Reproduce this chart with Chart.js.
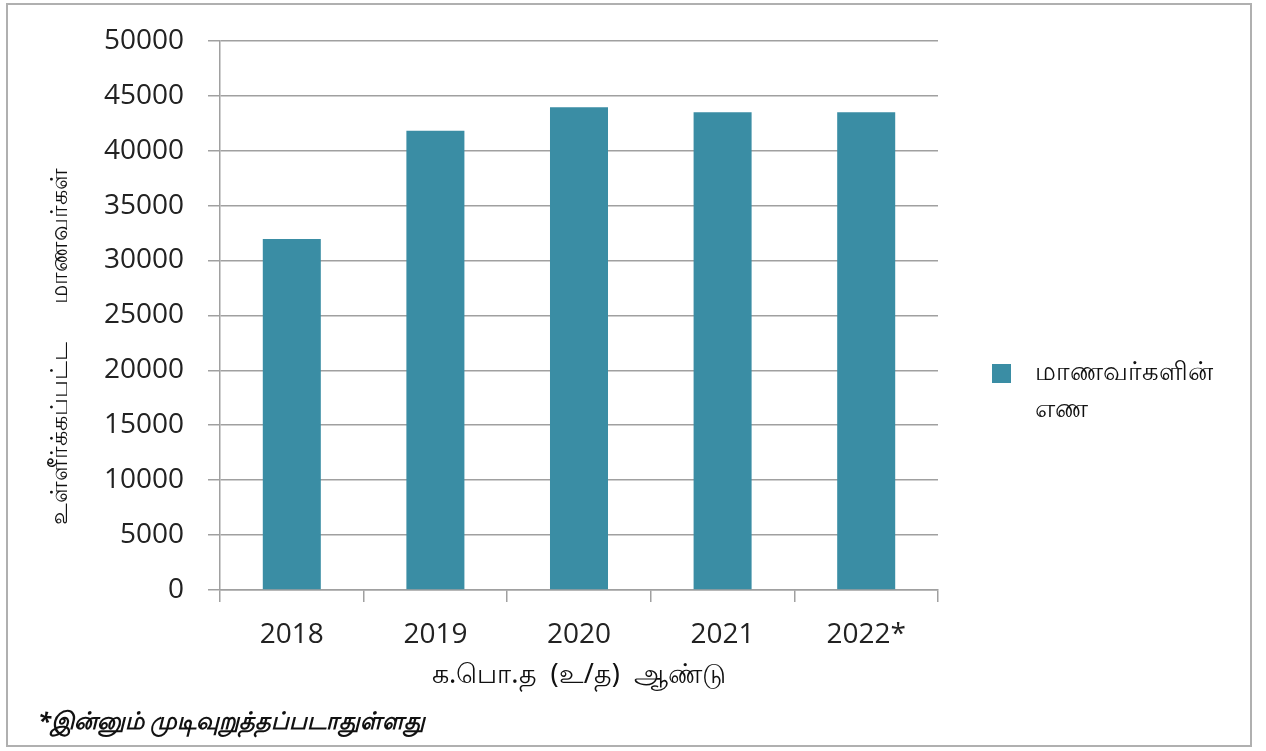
<!DOCTYPE html>
<html>
<head>
<meta charset="utf-8">
<script src="https://cdn.jsdelivr.net/npm/chart.js"></script>
<style>
  html, body { margin: 0; padding: 0; background: #fff; }
  #wrap { position: relative; width: 1266px; height: 751px; }
  #frame {
    position: absolute; left: 6px; top: 3px; width: 1246px; height: 744px;
    border: 2px solid #b0b0b0; box-sizing: border-box;
  }
  canvas { position: absolute; left: 0; top: 0; }
  #legend { position: absolute; left: 992px; top: 352px; font: 26px "Noto Sans", sans-serif; color: #111; }
  #legend .box { position: absolute; left: 0; top: 12px; width: 19px; height: 19px; }
  #legend .txt { position: absolute; left: 43px; top: 0; line-height: 37px; white-space: nowrap; }
  #note {
    position: absolute; left: 38px; top: 703px;
    font: italic bold 24px "Noto Sans", sans-serif; color: #111;
  }
</style>
</head>
<body>
<div id="wrap">
  <div id="frame"></div>
  <canvas id="c" width="1266" height="751"></canvas>
  <div id="legend"><div class="box"></div><div class="txt"></div></div>
  <div id="note"></div>
</div>
<script>
// data
const years = ['2018', '2019', '2020', '2021', '2022*'];
const students = [31950, 41800, 43950, 43500, 43500];
const yTicks = [0, 5000, 10000, 15000, 20000, 25000, 30000, 35000, 40000, 45000, 50000];

const seriesName = ['மாணவர்களின்', 'எண'];
const xTitle = 'க.பொ.த  (உ/த)  ஆண்டு';
// trailing nbsp pushes the visible text down a little, like the reference
const yTitle = 'உள்ளீர்க்கப்பட்ட      மாணவர்கள்' + '\u00A0'.repeat(10);
const footNote = '*இன்னும் முடிவுறுத்தப்படாதுள்ளது';

const barColor = '#3a8da4';
const gridColor = '#a0a0a0';
const numFont = { family: '"Open Sans", sans-serif', size: 28 };

document.querySelector('#legend .box').style.background = barColor;
document.querySelector('#legend .txt').innerHTML = seriesName.join('<br>');
document.getElementById('note').textContent = footNote;

new Chart(document.getElementById('c'), {
  type: 'bar',
  data: {
    labels: years,
    datasets: [{
      label: seriesName.join(' '),
      data: students,
      backgroundColor: barColor,
      borderWidth: 0,
      barPercentage: 0.404,
      categoryPercentage: 1
    }]
  },
  options: {
    responsive: false,
    animation: false,
    layout: { padding: { left: 46, right: 328, top: 39, bottom: 59 } },
    plugins: {
      legend: { display: false },
      tooltip: { enabled: false }
    },
    scales: {
      y: {
        min: 0,
        max: 50000,
        afterBuildTicks: axis => { axis.ticks = yTicks.map(v => ({ value: v })); },
        afterFit: axis => { axis.width = 174; },
        ticks: { font: numFont, color: '#222', padding: 24, callback: v => String(v) },
        grid: { color: gridColor, lineWidth: 1.5, tickLength: 12 },
        border: { color: gridColor, width: 1.5 },
        title: {
          display: true,
          text: yTitle,
          font: { family: '"Noto Sans", sans-serif', size: 24 },
          color: '#111',
          padding: 0
        }
      },
      x: {
        afterFit: axis => { axis.height = 102; },
        ticks: { font: numFont, color: '#222', padding: 16 },
        grid: { display: true, drawOnChartArea: false, offset: true, color: gridColor, lineWidth: 1.5, tickLength: 12 },
        border: { color: gridColor, width: 1.5 },
        title: {
          display: true,
          text: xTitle,
          font: { family: '"Noto Sans", sans-serif', size: 27 },
          color: '#111',
          padding: 0
        }
      }
    }
  }
});
</script>
</body>
</html>
